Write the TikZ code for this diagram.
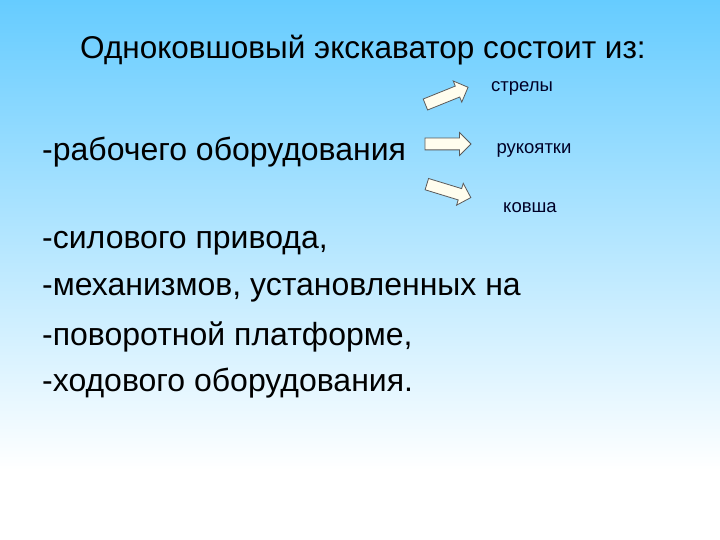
\documentclass[tikz,border=0pt]{standalone}
\usepackage{fontspec}
\setmainfont{Liberation Sans}
\usetikzlibrary{shapes.arrows}
\definecolor{skytop}{RGB}{102,204,255}
\definecolor{arrowfill}{RGB}{255,253,238}
\definecolor{arrowline}{RGB}{90,90,90}
\begin{document}
\begin{tikzpicture}[x=1pt,y=1pt,
  bigtext/.style={font=\fontsize{32}{36}\selectfont, anchor=west, inner sep=0},
  smalltext/.style={font=\fontsize{18.5}{21}\selectfont, inner sep=0, text=black!85!blue},
  blockarrow/.style={single arrow, draw=arrowline, fill=arrowfill, line width=0.8pt,
    minimum height=46pt, single arrow head extend=5.5pt,
    single arrow head indent=0pt, inner xsep=0pt, inner ysep=5.5pt}]
\useasboundingbox (0,0) rectangle (720,-540);
\shade[top color=skytop, bottom color=white] (0,0) rectangle (720,-470);
\fill[white] (0,-470) rectangle (720,-540);
\node[font=\fontsize{31.5}{36}\selectfont, inner sep=0] (title) at (363,-50) {Одноковшовый экскаватор состоит из:};
\node[bigtext] (rab) at (42,-152) {-рабочего оборудования};
\node[blockarrow, rotate=22] (a1) at (444,-97) {};
\node[blockarrow] (a2) at (445,-144) {};
\node[blockarrow, rotate=-17] (a3) at (446,-190) {};
\node[smalltext] (s1) at (522,-88) {стрелы};
\node[smalltext] (s2) at (534,-150) {рукоятки};
\node[smalltext] (s3) at (530,-208) {ковша};
\node[bigtext] (l1) at (42,-243) {-силового привода,};
\node[bigtext] (l2) at (42,-290) {-механизмов, установленных на};
\node[bigtext] (l3) at (42,-337) {-поворотной платформе,};
\node[bigtext] (l4) at (42,-383) {-ходового оборудования.};
\end{tikzpicture}
\end{document}
